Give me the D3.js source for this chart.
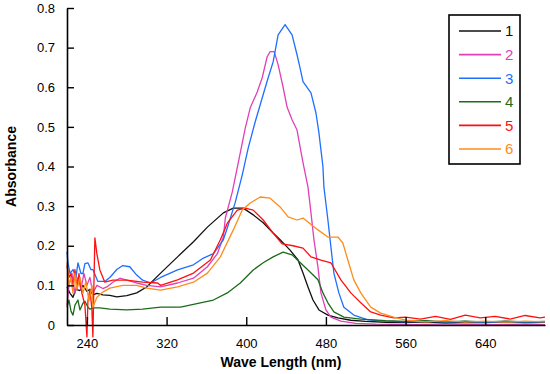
<!DOCTYPE html>
<html>
<head>
<meta charset="utf-8">
<script src="https://cdn.jsdelivr.net/npm/d3@7"></script>
<style>
  html, body { margin: 0; padding: 0; background: #fff; }
  svg { display: block; font-family: "Liberation Sans", Arial, sans-serif; }
</style>
</head>
<body>
<svg id="chart" width="550" height="374"></svg>
<script>
// wavelength (nm), absorbance pairs
const series1 = [[220,0.096],[223,0.08],[226,0.07],[229,0.09],[233,0.087],[236,0.1],[240,0.085],[243,0.09],[246,0.076],[250,0.08],[256,0.076],[263,0.075],[270,0.071],[280,0.074],[290,0.081],[300,0.096],[314,0.131],[331,0.172],[347,0.21],[361,0.247],[377,0.283],[387,0.295],[397,0.295],[407,0.278],[417,0.258],[427,0.232],[434,0.215],[444,0.189],[452,0.164],[457,0.131],[462,0.096],[467,0.063],[473,0.038],[482,0.025],[492,0.018],[505,0.012],[520,0.009],[540,0.007],[560,0.006],[580,0.008],[600,0.005],[620,0.007],[640,0.006],[660,0.008],[680,0.006],[700,0.007]];
const series2 = [[220,0.05],[222,0.1],[225,0.13],[228,0.08],[231,0.12],[234,0.09],[237,0.13],[240,0.1],[243,0.12],[246,0.08],[250,0.1],[256,0.092],[260,0.096],[266,0.108],[273,0.118],[280,0.113],[290,0.106],[300,0.1],[314,0.096],[331,0.106],[347,0.118],[361,0.147],[371,0.18],[377,0.222],[379,0.27],[386,0.336],[392,0.41],[399,0.497],[404,0.548],[411,0.588],[416,0.624],[421,0.677],[424,0.69],[428,0.69],[432,0.657],[437,0.6],[441,0.55],[446,0.518],[451,0.492],[454,0.45],[457,0.41],[462,0.348],[465,0.283],[468,0.215],[472,0.146],[475,0.081],[480,0.038],[485,0.02],[495,0.01],[510,0.004],[530,0.002],[560,0.001],[600,0.002],[640,0.001],[680,0.002],[700,0.001]];
const series3 = [[220,0.185],[221,0.157],[223,0.13],[226,0.14],[229,0.12],[231,0.157],[234,0.13],[236,0.13],[238,0.155],[241,0.157],[244,0.14],[246,0.14],[251,0.11],[258,0.11],[263,0.12],[270,0.14],[276,0.15],[283,0.147],[290,0.126],[296,0.113],[304,0.106],[314,0.12],[331,0.139],[347,0.152],[357,0.169],[367,0.18],[377,0.215],[382,0.253],[389,0.31],[396,0.379],[402,0.447],[409,0.513],[416,0.573],[422,0.624],[427,0.664],[432,0.732],[439,0.758],[446,0.732],[451,0.682],[454,0.649],[457,0.614],[465,0.586],[470,0.535],[473,0.485],[475,0.442],[477,0.4],[478,0.348],[482,0.265],[485,0.197],[488,0.131],[493,0.081],[498,0.045],[508,0.025],[522,0.013],[540,0.01],[560,0.008],[580,0.01],[600,0.007],[620,0.009],[640,0.006],[660,0.009],[680,0.007],[700,0.008]];
const series4 = [[220,0.045],[222,0.063],[224,0.035],[226,0.025],[228,0.05],[231,0.063],[233,0.038],[236,0.055],[238,0.06],[241,0.045],[243,0.04],[246,0.043],[253,0.043],[263,0.04],[280,0.038],[296,0.04],[314,0.045],[334,0.045],[354,0.056],[367,0.063],[381,0.081],[394,0.106],[407,0.139],[417,0.157],[427,0.172],[437,0.184],[446,0.177],[452,0.163],[462,0.139],[472,0.114],[477,0.081],[482,0.056],[488,0.033],[498,0.02],[515,0.015],[540,0.011],[560,0.009],[580,0.011],[600,0.008],[620,0.01],[640,0.008],[660,0.01],[680,0.008],[700,0.009]];
const series5 = [[220,0.15],[222,0.12],[224,0.13],[226,0.1],[228,0.14],[230,0.09],[232,0.13],[235,0.08],[238,0.05],[240,-0.03],[241,0.06],[243,0.09],[245,0.04],[246,-0.03],[247,0.1],[248,0.22],[250,0.18],[253,0.139],[258,0.108],[266,0.113],[280,0.113],[296,0.108],[311,0.106],[314,0.1],[331,0.114],[347,0.131],[364,0.164],[374,0.215],[381,0.257],[391,0.29],[399,0.295],[407,0.29],[417,0.265],[427,0.232],[436,0.205],[447,0.2],[457,0.194],[465,0.172],[475,0.164],[485,0.157],[495,0.114],[505,0.081],[515,0.056],[525,0.033],[535,0.025],[548,0.018],[560,0.02],[575,0.015],[590,0.022],[605,0.014],[620,0.025],[635,0.018],[650,0.022],[665,0.015],[680,0.024],[695,0.018],[700,0.02]];
const series6 = [[220,0.157],[222,0.1],[224,0.12],[226,0.08],[228,0.13],[230,0.09],[233,0.12],[236,0.08],[239,0.11],[242,0.06],[245,0.1],[246,0.045],[250,0.07],[256,0.083],[263,0.093],[276,0.1],[290,0.1],[300,0.093],[314,0.088],[331,0.096],[347,0.108],[361,0.131],[374,0.172],[387,0.24],[396,0.29],[404,0.308],[414,0.323],[424,0.32],[434,0.298],[442,0.273],[451,0.265],[457,0.27],[462,0.26],[472,0.24],[482,0.222],[492,0.222],[497,0.207],[502,0.164],[508,0.114],[515,0.081],[525,0.045],[535,0.03],[548,0.02],[560,0.012],[580,0.008],[600,0.011],[620,0.007],[640,0.01],[660,0.007],[680,0.01],[700,0.008]];

const names = ["1", "2", "3", "4", "5", "6"];
const colors = ["#111111", "#e040b8", "#1f6fff", "#1b6b1b", "#ff1010", "#ff8c1a"];
const xTicks = [240, 320, 400, 480, 560, 640];
const yTicks = [0, 0.1, 0.2, 0.3, 0.4, 0.5, 0.6, 0.7, 0.8];

const allSeries = [series1, series2, series3, series4, series5, series6];

const svg = d3.select("#chart");
const margin = { top: 8, right: 5, bottom: 49, left: 67 };
const width = 550, height = 374;

const x = d3.scaleLinear().domain([220, 700]).range([margin.left, width - margin.right]);
const y = d3.scaleLinear().domain([0, 0.8]).range([height - margin.bottom, margin.top]);

const line = d3.line()
  .x(d => x(d[0]))
  .y(d => y(d[1]));

// curves
svg.append("g")
  .selectAll("path")
  .data(allSeries)
  .enter()
  .append("path")
  .attr("fill", "none")
  .attr("stroke", (d, i) => colors[i])
  .attr("stroke-width", 1.3)
  .attr("stroke-linejoin", "round")
  .attr("d", line);

// x axis, ticks pointing up
const xAxis = svg.append("g")
  .attr("transform", `translate(0,${y(0)})`)
  .call(d3.axisBottom(x).tickValues(xTicks).tickSizeInner(-8).tickSizeOuter(0).tickPadding(14));
// y axis, ticks pointing right
const yAxis = svg.append("g")
  .attr("transform", `translate(${x(220)},0)`)
  .call(d3.axisLeft(y).tickValues(yTicks).tickSizeInner(-7).tickSizeOuter(0).tickPadding(12)
    .tickFormat(d => d === 0 ? "0" : d3.format(".1f")(d)));

[xAxis, yAxis].forEach(a => {
  a.select(".domain").attr("stroke", "#000").attr("stroke-width", 1.6);
  a.selectAll(".tick line").attr("stroke", "#000").attr("stroke-width", 1.4);
  a.selectAll(".tick text").attr("fill", "#000").style("font-size", "13px")
    .style("font-family", "'Liberation Sans', Arial, sans-serif");
});

// axis titles
svg.append("text")
  .attr("x", 281)
  .attr("y", 367)
  .attr("text-anchor", "middle")
  .style("font-size", "14px")
  .style("font-weight", "bold")
  .text("Wave Length (nm)");

svg.append("text")
  .attr("transform", `translate(16,${y(0.4)})rotate(-90)`)
  .attr("text-anchor", "middle")
  .style("font-size", "14px")
  .style("font-weight", "bold")
  .text("Absorbance");

// legend
const legend = svg.append("g").attr("transform", "translate(449,15)");
legend.append("rect")
  .attr("width", 71)
  .attr("height", 149)
  .attr("fill", "#fff")
  .attr("stroke", "#000")
  .attr("stroke-width", 1.6);
const item = legend.selectAll("g.item")
  .data(names)
  .enter()
  .append("g")
  .attr("class", "item")
  .attr("transform", (d, i) => `translate(0,${16 + i * 23.6})`);
item.append("line")
  .attr("x1", 10)
  .attr("x2", 52)
  .attr("stroke", (d, i) => colors[i])
  .attr("stroke-width", 1.6);
item.append("text")
  .attr("x", 56)
  .attr("dy", "0.36em")
  .attr("fill", (d, i) => colors[i])
  .style("font-size", "15px")
  .text(d => d);
</script>
</body>
</html>
